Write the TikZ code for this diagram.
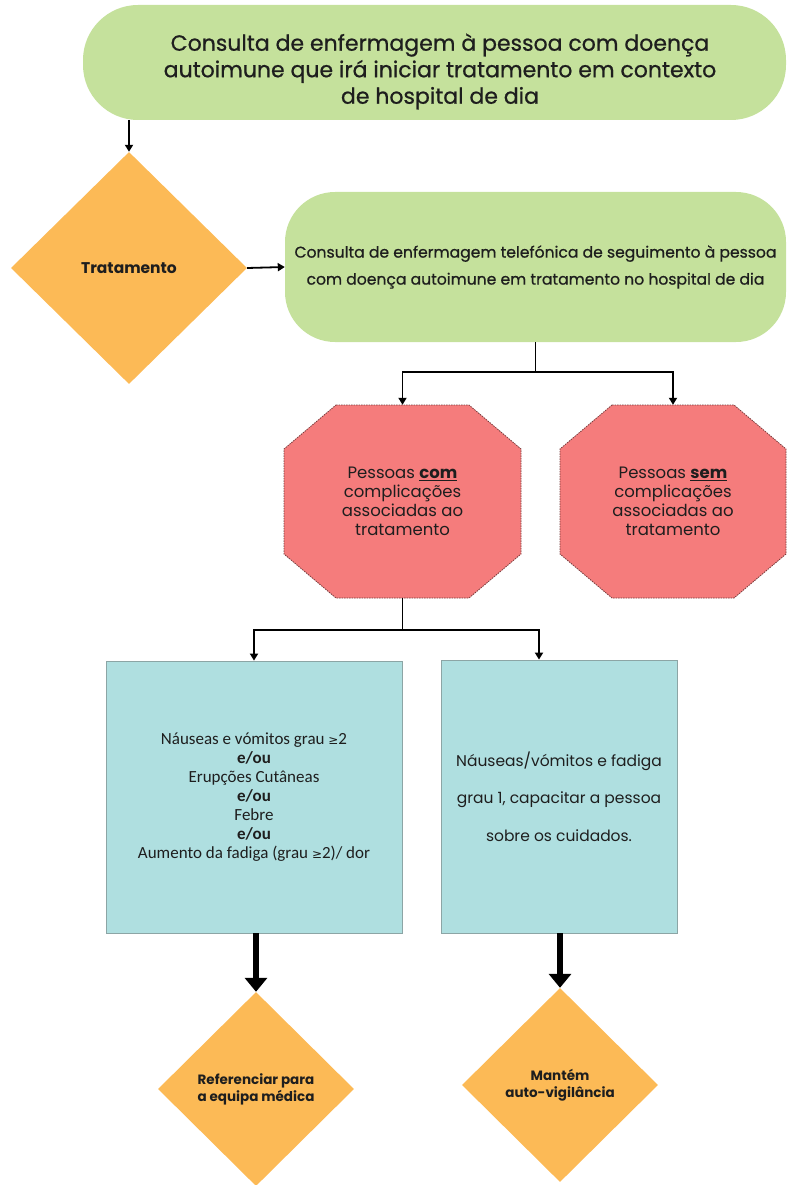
\documentclass[tikz,border=0pt]{standalone}
\usepackage{fontspec}
\setmainfont{Poppins}
\newfontfamily\medf{Poppins}[FakeBold=0.7]
\newfontfamily\calf{Carlito}
\newfontfamily\symf{DejaVu Sans}
\usetikzlibrary{arrows.meta,shapes.geometric}
\definecolor{gfill}{RGB}{197,225,156}
\definecolor{ofill}{RGB}{252,186,86}
\definecolor{rfill}{RGB}{245,124,124}
\definecolor{rborder}{RGB}{120,60,60}
\definecolor{bfill}{RGB}{175,223,224}
\definecolor{bborder}{RGB}{140,165,165}
\definecolor{ink}{RGB}{30,30,30}
\tikzset{
  arr/.style={draw=black, line width=1.8pt, -{Triangle[width=8pt,length=7pt]}},
  bigarr/.style={draw=black, line width=6pt, -{Triangle[width=22pt,length=14pt]}},
  gbox/.style={rectangle, fill=gfill, inner sep=0pt},
  dia/.style={diamond, fill=ofill, inner sep=0pt, align=center, text=ink},
  bbox/.style={rectangle, fill=bfill, draw=bborder, line width=0.8pt, align=center, inner sep=0pt, text=ink},
  octo/.style={fill=rfill, draw=rborder, dash pattern=on 1.5pt off 1pt, line width=0.8pt},
  octtext/.style={inner sep=0pt, align=center, text=ink, font=\fontsize{16.5}{19}\selectfont},
}
\begin{document}
\begin{tikzpicture}[x=1pt,y=-1pt]
\useasboundingbox (0,0) rectangle (787,1185);

% top box
\node[gbox, rounded corners=55pt, minimum width=703pt, minimum height=115pt] (top) at (434.5,62.5) {};
\node[align=center, text=ink, font=\medf\fontsize{22}{26.5}\selectfont] (topT) at (440,71.5)
  {Consulta de enfermagem à pessoa com doença\\autoimune que irá iniciar tratamento em contexto\\de hospital de dia};

% Tratamento diamond
\node[dia, minimum width=236pt, minimum height=232pt, font=\bfseries\fontsize{15.5}{18}\selectfont] (d1) at (129,268) {Tratamento};

% second green box
\node[gbox, rounded corners=50pt, minimum width=501pt, minimum height=150pt, align=center, text=ink,
      font=\medf\fontsize{15.6}{27}\selectfont] (g2) at (535.5,267)
  {Consulta de enfermagem telefónica de seguimento à pessoa\\com doença autoimune em tratamento no hospital de dia};

% octagons
\path[octo] (336,405) -- (469,405) -- (521,449) -- (521,554) -- (469,598) -- (336,598) -- (284,554) -- (284,449) -- cycle;
\path[octo] (612,405) -- (734,405) -- (786,449) -- (786,554) -- (734,598) -- (612,598) -- (560,554) -- (560,449) -- cycle;
\node[octtext, minimum width=237pt, minimum height=193pt] (oL) at (402.5,501.5)
  {Pessoas \underline{\textbf{com}}\\complicações\\associadas ao\\tratamento};
\node[octtext, minimum width=226pt, minimum height=193pt] (oR) at (673,501.5)
  {Pessoas \underline{\textbf{sem}}\\complicações\\associadas ao\\tratamento};

% blue boxes
\node[bbox, minimum width=296pt, minimum height=272pt, font=\calf\fontsize{17}{19}\selectfont] (bL) at (254,797)
  {Náuseas e vómitos grau {\symf\fontsize{12}{12}\selectfont ≥}2\\\textbf{e/ou}\\Erupções Cutâneas\\\textbf{e/ou}\\Febre\\\textbf{e/ou}\\Aumento da fadiga (grau {\symf\fontsize{12}{12}\selectfont ≥}2)/ dor};
\node[bbox, minimum width=236pt, minimum height=273pt, font=\fontsize{15.5}{37.5}\selectfont] (bR) at (559,796.5)
  {Náuseas/vómitos e fadiga\\grau 1, capacitar a pessoa\\sobre os cuidados.};

% bottom diamonds
\node[dia, minimum width=196pt, minimum height=194pt, font=\bfseries\fontsize{13.5}{17}\selectfont] (dL) at (256,1089)
  {Referenciar para\\a equipa médica};
\node[dia, minimum width=196pt, minimum height=194pt, font=\bfseries\fontsize{13.5}{17}\selectfont] (dR) at (560,1085)
  {Mantém\\auto-vigilância};

% connectors
\draw[arr] (d1.north |- top.south) -- (d1.north);
\draw[arr] (d1.east) -- (g2.west);
\draw[line width=1.8pt] (g2.south) -- ++(0,30) coordinate (j1);
\draw[arr] (j1) -| (oL.north);
\draw[arr] (j1) -| (oR.north);
\draw[line width=1.8pt] (oL.south) -- ++(0,32) coordinate (j2);
\draw[arr] (j2) -| (bL.north);
\draw[arr] (j2) -| ([xshift=-20pt]bR.north);
\draw[bigarr] (bL.south -| dL.north) -- (dL.north);
\draw[bigarr] (bR.south -| dR.north) -- (dR.north);
\end{tikzpicture}
\end{document}
